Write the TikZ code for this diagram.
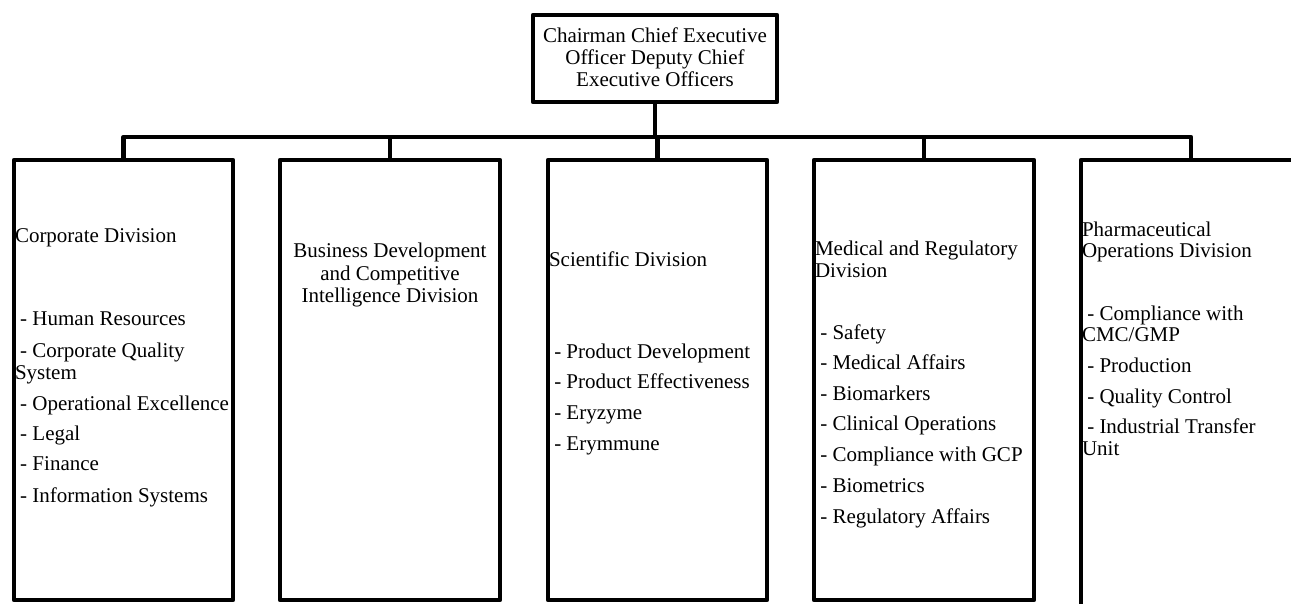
\documentclass[tikz,border=0pt]{standalone}
\usepackage{fontspec}
\setmainfont{Liberation Serif}
\begin{document}
\begin{tikzpicture}[x=1pt,y=-1pt,
  frame/.style={draw=black,line width=4.6pt,line join=round,fill=white,inner sep=0pt,outer sep=0pt},
  conn/.style={draw=black,line width=4.6pt,line join=round},
  txt/.style={inner sep=0pt,outer sep=0pt,font=\fontsize{21}{22}\selectfont},
  lt/.style={txt,anchor=base west},
  ct/.style={txt,anchor=base}]
\useasboundingbox (0,0) rectangle (1291,604);
\clip (0,0) rectangle (1291,604);
% boxes
\node[frame,minimum width=244pt,minimum height=87pt] (top) at (655,58.5) {};
\node[frame,minimum width=219pt,minimum height=440pt] (b1) at (123.5,380) {};
\node[frame,minimum width=220pt,minimum height=440pt] (b2) at (390,380) {};
\node[frame,minimum width=219pt,minimum height=440pt] (b3) at (657.5,380) {};
\node[frame,minimum width=220pt,minimum height=440pt] (b4) at (924,380) {};
\node[frame,minimum width=220pt,minimum height=470pt] (b5) at (1191,395) {};
\coordinate (bar) at (0,137);
% connectors
\draw[conn] (b1.north) -- (b1.north |- bar) -- (b5.north |- bar) -- (b5.north);
\draw[conn] (top.south) -- (top.south |- bar);
\draw[conn] (b2.north) -- (b2.north |- bar);
\draw[conn] (b3.north) -- (b3.north |- bar);
\draw[conn] (b4.north) -- (b4.north |- bar);
% top text
\node[ct] (t0a) at (655,43) {Chairman Chief Executive};
\node[ct] (t0b) at (655,65) {Officer Deputy Chief};
\node[ct] (t0c) at (655,87) {Executive Officers};
% box 1
\node[lt] (t1a) at (15,243) {Corporate Division};
\node[lt] (t1b) at (15,325) {~- Human Resources};
\node[lt] (t1c) at (15,357) {~- Corporate Quality};
\node[lt] (t1d) at (15,379) {System};
\node[lt] (t1e) at (15,410) {~- Operational Excellence};
\node[lt] (t1f) at (15,440) {~- Legal};
\node[lt] (t1g) at (15,470) {~- Finance};
\node[lt] (t1h) at (15,502) {~- Information Systems};
% box 2
\node[ct] (t2a) at (390,258) {Business Development};
\node[ct] (t2b) at (390,280) {and Competitive};
\node[ct] (t2c) at (390,302) {Intelligence Division};
% box 3
\node[lt] (t3a) at (549,266) {Scientific Division};
\node[lt] (t3b) at (549,358) {~- Product Development};
\node[lt] (t3c) at (549,388) {~- Product Effectiveness};
\node[lt] (t3d) at (549,419) {~- Eryzyme};
\node[lt] (t3e) at (549,450) {~- Erymmune};
% box 4
\node[lt] (t4a) at (815,255) {Medical and Regulatory};
\node[lt] (t4b) at (815,277) {Division};
\node[lt] (t4c) at (815,339) {~- Safety};
\node[lt] (t4d) at (815,369) {~- Medical Affairs};
\node[lt] (t4e) at (815,400) {~- Biomarkers};
\node[lt] (t4f) at (815,430) {~- Clinical Operations};
\node[lt] (t4g) at (815,461) {~- Compliance with GCP};
\node[lt] (t4h) at (815,492) {~- Biometrics};
\node[lt] (t4i) at (815,523) {~- Regulatory Affairs};
% box 5
\node[lt] (t5a) at (1082,237) {Pharmaceutical};
\node[lt] (t5b) at (1082,258) {Operations Division};
\node[lt] (t5c) at (1082,320) {~- Compliance with};
\node[lt] (t5d) at (1082,341) {CMC/GMP};
\node[lt] (t5e) at (1082,372) {~- Production};
\node[lt] (t5f) at (1082,403) {~- Quality Control};
\node[lt] (t5g) at (1082,433) {~- Industrial Transfer};
\node[lt] (t5h) at (1082,455) {Unit};
\end{tikzpicture}
\end{document}
